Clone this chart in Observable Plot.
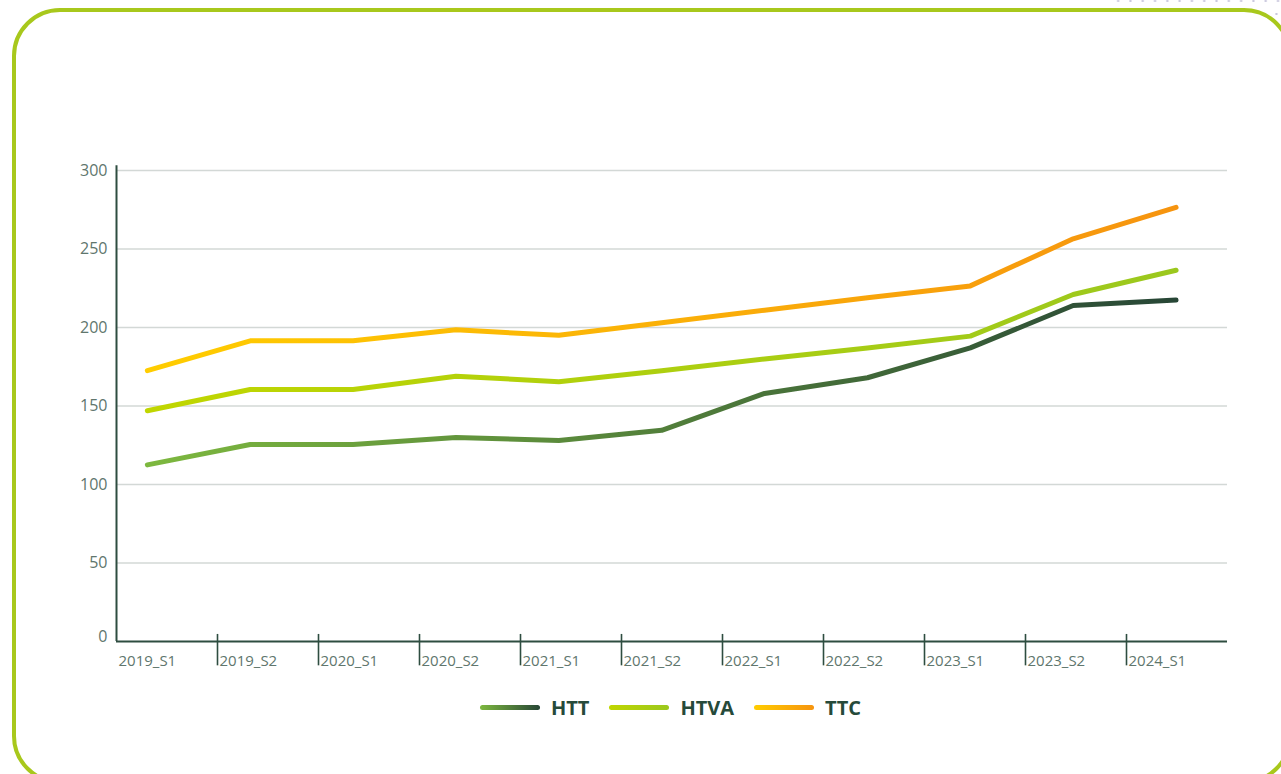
<!DOCTYPE html>
<html>
<head>
<meta charset="utf-8">
<script src="https://cdn.jsdelivr.net/npm/d3@7"></script>
<script src="https://cdn.jsdelivr.net/npm/@observablehq/plot@0.6"></script>
<style>
  html, body { margin: 0; padding: 0; background: #fff; width: 1281px; height: 774px; overflow: hidden; position: relative; font-family: "Open Sans", Inter, sans-serif; }
  #frame { position: absolute; left: 12px; top: 8px; width: 1280px; height: 776px; border: 4px solid #a8c81c; border-radius: 48px; box-sizing: border-box; }
  #dots1 { position: absolute; left: 1112px; top: -5px; width: 170px; height: 12px;
          background-image: radial-gradient(circle, #c9c7dd 0.9px, transparent 1.3px); background-size: 12.3px 12px; }
  #dots2 { position: absolute; left: 1258px; top: 8px; width: 24px; height: 12px;
          background-image: radial-gradient(circle, #c9c7dd 0.9px, transparent 1.3px); background-size: 12.3px 12px; }
  #chart { position: absolute; left: 0; top: 0; }
  #legend { position: absolute; left: 30px; top: 693px; width: 1281px; height: 28px; display: flex; justify-content: center; align-items: center; }
  .item { display: flex; align-items: center; margin: 0 10px; }
  .sw { width: 60px; height: 5px; border-radius: 3px; }
  .item span { font-weight: 700; font-size: 20px; color: #264a3a; margin-left: 11px; font-family: "Open Sans", Inter, sans-serif; }
</style>
</head>
<body>
<div id="dots1"></div>
<div id="dots2"></div>
<div id="frame"></div>
<div id="chart"></div>
<div id="legend"></div>
<script>
const periods = ["2019_S1","2019_S2","2020_S1","2020_S2","2021_S1","2021_S2","2022_S1","2022_S2","2023_S1","2023_S2","2024_S1"];
const htt  = [112.5, 125.5, 125.5, 130, 128, 134.5, 158, 168, 187, 214, 217.5];
const htva = [147, 160.5, 160.5, 169, 165.5, 172.5, 180, 187, 194.5, 221, 236.5];
const ttc  = [172.5, 191.5, 191.5, 198.5, 195, 203, 211, 219, 226.5, 256.5, 276.5];
const seriesNames = ["HTT", "HTVA", "TTC"];
const gradients = {
  HTT:  ["#7db83f", "#274636"],
  HTVA: ["#c0d600", "#9bc81e"],
  TTC:  ["#ffcd00", "#f6940f"]
};
const yTicks = [0, 50, 100, 150, 200, 250, 300];

const rows = [];
[htt, htva, ttc].forEach((vals, s) => vals.forEach((v, i) => rows.push({series: seriesNames[s], i, period: periods[i], value: v})));

const xMin = -0.3, xMax = 10.5;
const bandW = (xMax - xMin) / periods.length;
const bounds = periods.map((p, k) => ({pos: xMin + k * bandW, label: p}));

const axisColor = "#2e4d40";
const labelColor = "#60766d";

const svg = Plot.plot({
  width: 1281,
  height: 690,
  marginLeft: 116,
  marginRight: 54,
  marginTop: 170,
  marginBottom: 49,
  style: {fontFamily: "'Open Sans', Inter, sans-serif", fontSize: "14px", background: "transparent", overflow: "visible"},
  x: {domain: [xMin, xMax], axis: null},
  y: {domain: [0, 300], axis: null},
  marks: [
    Plot.ruleY(yTicks.filter(d => d > 0), {stroke: "#d3d8d6", strokeWidth: 1.3}),
    ...seriesNames.map(name => Plot.line(rows.filter(r => r.series === name), {
      x: "i", y: "value", stroke: `url(#grad-${name})`, strokeWidth: 5, strokeLinecap: "round", strokeLinejoin: "round"
    })),
    Plot.ruleX([xMin], {y1: 0, y2: 303, stroke: axisColor, strokeWidth: 2}),
    Plot.ruleY([0], {stroke: axisColor, strokeWidth: 2}),
    Plot.ruleX(bounds.slice(1), {x: "pos", y1: -15.5, y2: 4.5, stroke: axisColor, strokeWidth: 1.6}),
    Plot.text(bounds, {x: "pos", frameAnchor: "bottom", lineAnchor: "middle", dy: 20, dx: 2, text: "label", textAnchor: "start", fill: labelColor, fontSize: 15}),
    Plot.text(yTicks.filter(d => d > 0), {x: xMin, y: d => d, dx: -9, text: d => String(d), textAnchor: "end", lineAnchor: "middle", fill: labelColor, fontSize: 16}),
    Plot.text([0], {x: xMin, y: d => d, dx: -9, dy: -5, text: d => String(d), textAnchor: "end", lineAnchor: "middle", fill: labelColor, fontSize: 16})
  ]
});

const ns = "http://www.w3.org/2000/svg";
const defs = document.createElementNS(ns, "defs");
for (const name of seriesNames) {
  const g = document.createElementNS(ns, "linearGradient");
  g.setAttribute("id", `grad-${name}`);
  g.setAttribute("x1", "0"); g.setAttribute("x2", "1"); g.setAttribute("y1", "0"); g.setAttribute("y2", "0");
  gradients[name].forEach((c, k) => {
    const st = document.createElementNS(ns, "stop");
    st.setAttribute("offset", k === 0 ? "0" : "1");
    st.setAttribute("stop-color", c);
    g.appendChild(st);
  });
  defs.appendChild(g);
}
svg.insertBefore(defs, svg.firstChild);
document.getElementById("chart").appendChild(svg);

// legend
const legend = document.getElementById("legend");
for (const name of seriesNames) {
  const item = document.createElement("div");
  item.className = "item";
  const [c0, c1] = gradients[name];
  item.innerHTML = `<div class="sw" style="background: linear-gradient(to right, ${c0}, ${c1});"></div><span>${name}</span>`;
  legend.appendChild(item);
}
</script>
</body>
</html>
